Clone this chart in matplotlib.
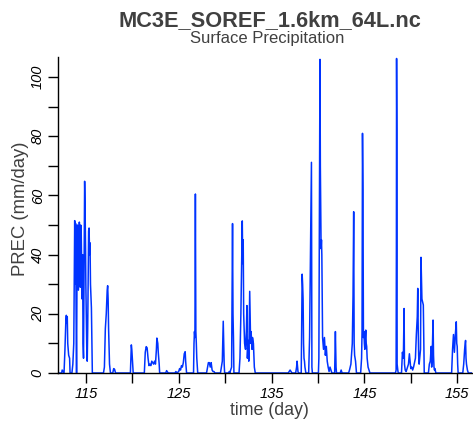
import numpy as np
import matplotlib
matplotlib.use('Agg')
import matplotlib.pyplot as plt
from matplotlib.ticker import MultipleLocator

plt.rcParams['font.family'] = ['Liberation Sans', 'DejaVu Sans']

# surface precipitation (day, mm/day)
time_day = [
    112.0, 112.4, 112.45, 112.55, 112.65, 112.75, 112.85, 112.9, 112.95, 113.0,
    113.05, 113.15, 113.25, 113.3, 113.5, 113.6, 113.7, 113.8, 113.85, 113.9,
    113.95, 114.0, 114.05, 114.1, 114.15, 114.2, 114.3, 114.35, 114.4, 114.45,
    114.5, 114.55, 114.6, 114.65, 114.7, 114.75, 114.8, 114.87, 114.92, 114.97,
    115.0, 115.05, 115.1, 115.15, 115.2, 115.3, 115.35, 115.4, 115.45, 115.5,
    115.6, 115.65, 115.7, 116.9, 117.0, 117.1, 117.2, 117.3, 117.35, 117.4,
    117.45, 117.55, 117.65, 117.9, 118.0, 118.1, 118.2, 119.8, 119.9, 119.95,
    120.05, 120.1, 121.3, 121.4, 121.5, 121.6, 121.7, 121.8, 121.9, 122.0,
    122.1, 122.2, 122.3, 122.4, 122.5, 122.6, 122.65, 122.75, 122.8, 122.9,
    122.95, 123.6, 123.7, 123.8, 123.9, 124.6, 124.7, 124.8, 125.0, 125.1,
    125.2, 125.3, 125.4, 125.5, 125.6, 125.7, 125.75, 125.85, 126.6, 126.65,
    126.7, 126.75, 126.8, 126.85, 126.9, 126.95, 127.05, 128.0, 128.2, 128.3,
    128.4, 128.5, 128.6, 128.7, 128.8, 128.9, 129.5, 129.6, 129.7, 129.8,
    129.85, 129.9, 129.95, 130.4, 130.45, 130.5, 130.7, 130.8, 130.85, 130.9,
    130.95, 131.5, 131.6, 131.7, 131.85, 131.9, 131.95, 132.0, 132.1, 132.2,
    132.3, 132.35, 132.4, 132.5, 132.55, 132.65, 132.7, 132.75, 132.8, 132.85,
    132.9, 132.95, 133.05, 133.15, 133.25, 136.8, 136.9, 137.0, 137.1, 137.2,
    137.6, 137.7, 137.75, 137.85, 137.9, 138.2, 138.3, 138.35, 138.4, 138.45,
    138.5, 138.55, 138.6, 138.7, 139.0, 139.1, 139.3, 139.35, 139.4, 140.05,
    140.1, 140.22, 140.26, 140.3, 140.34, 140.38, 140.42, 140.5, 140.6, 140.7,
    140.8, 140.9, 141.0, 141.1, 141.2, 141.3, 141.4, 141.5, 141.8, 141.88,
    141.95, 142.0, 142.4, 142.5, 142.6, 143.3, 143.4, 143.55, 143.7, 143.78,
    143.85, 143.9, 143.95, 144.05, 144.15, 144.6, 144.7, 144.75, 144.8, 144.85,
    144.9, 144.95, 145.0, 145.05, 145.1, 145.15, 145.2, 145.25, 145.3, 145.4,
    145.5, 145.6, 148.35, 148.42, 148.45, 148.47, 148.5, 148.53, 148.6, 148.65,
    149.0, 149.1, 149.2, 149.28, 149.32, 149.4, 149.5, 149.6, 149.75, 149.85,
    149.95, 150.0, 150.1, 150.2, 150.3, 150.4, 150.5, 150.6, 150.7, 150.75,
    150.8, 150.85, 150.9, 151.05, 151.1, 151.2, 151.35, 151.4, 151.45, 151.9,
    152.0, 152.1, 152.2, 152.25, 152.3, 152.4, 152.45, 152.5, 152.55, 152.6,
    152.7, 154.4, 154.5, 154.6, 154.7, 154.8, 154.9, 154.95, 155.0, 155.05,
    155.1, 155.6, 155.7, 155.8, 155.9, 155.95, 156.0, 156.1, 156.2, 156.6,
]
prec = [
    0, 0, 1, 0.5, 0, 8, 18, 19.5, 17, 19,
    10, 6, 5, 0, 0, 3, 10, 51.5, 30, 50.5,
    20, 0, 35, 50, 40, 28, 51, 46, 29, 50,
    48, 35, 25, 40, 10, 5, 30, 64.8, 55, 42,
    30, 18, 8, 4, 15, 48, 49, 40, 44, 30,
    22, 10, 0, 0, 2, 15, 20, 28, 29.5, 25,
    15, 3, 0, 0, 1.5, 1.2, 0, 0, 9.5, 8,
    3, 0, 0, 7, 8.9, 8.5, 5, 2.5, 3, 2.5,
    4, 3.5, 3, 4, 3, 8, 11.8, 10, 7, 3,
    0, 0, 0.8, 0.3, 0, 0, 0.5, 0, 0.5, 1.5,
    1, 2.5, 2, 3.5, 6.5, 7.2, 4, 0, 0, 10,
    14, 12, 60.5, 14, 10, 5, 0, 0, 3.5, 3.5,
    2, 3.5, 1, 0.5, 0.5, 0, 0, 2, 4, 17.5,
    10, 3, 0, 0, 0.5, 0, 2, 50.5, 20, 12,
    0, 0, 5, 20, 51.4, 37, 45, 20, 10, 8,
    15, 22.8, 5, 11, 4, 27.6, 18, 10, 14, 11,
    8, 12, 10, 2, 0, 0, 0.5, 1, 0.5, 0,
    0, 2, 4, 0.5, 0, 0, 33.4, 30, 25, 10,
    5, 4, 2, 0, 0, 12, 71.2, 2, 0, 0,
    5, 106, 70, 55, 42, 45, 40, 12, 8, 12,
    6, 9, 4, 2, 0.5, 2, 1, 0, 0, 14,
    2, 0, 0, 1, 0, 0, 1, 3, 10, 26,
    54.5, 10, 6, 4, 0, 0, 5, 14, 81, 62,
    12, 14, 10, 8, 12, 14.5, 10, 9, 5, 2,
    1, 0, 0, 1, 41.5, 106.3, 82, 3, 1, 0,
    0, 7, 5, 21.8, 3, 1, 0.5, 1.5, 3, 6.5,
    3, 1.5, 2, 1, 2, 3.5, 5, 13, 19, 28.6,
    15, 6, 3, 8, 39.1, 25, 23, 10, 0, 0,
    3, 4, 9, 2, 5, 17.9, 6, 2, 1, 1.5,
    0, 0, 8, 13, 7, 13, 17.3, 10, 9, 3,
    0, 0, 3, 8, 11, 5, 3, 1, 0, 0,
]

x_major = [115, 125, 135, 145, 155]
y_major = [0, 20, 40, 60, 80, 100]

fig = plt.figure(figsize=(4.73, 4.21), dpi=100)
ax = fig.add_axes([0.1226, 0.114, 0.8754, 0.7506])

ax.plot(time_day, prec, color='#0033ff', linewidth=1.1)

ax.set_xlim(112.0, 156.6)
ax.set_ylim(0, 106.8)

ax.spines['top'].set_visible(False)
ax.spines['right'].set_visible(False)
for sp in ['left', 'bottom']:
    ax.spines[sp].set_linewidth(1.0)

ax.set_xticks(x_major)
ax.set_yticks(y_major)
ax.xaxis.set_minor_locator(MultipleLocator(5))
ax.yaxis.set_minor_locator(MultipleLocator(10))
ax.tick_params(which='both', direction='out', length=7, width=1.0, color='black')
ax.tick_params(axis='x', labelsize=10.5, pad=3)
ax.tick_params(axis='y', labelsize=10.5, pad=2.5)
for lbl in ax.get_xticklabels():
    lbl.set_fontstyle('italic')
for lbl in ax.get_yticklabels():
    lbl.set_fontstyle('italic')
    lbl.set_rotation(90)
    lbl.set_va('center')

ax.set_xlabel('time (day)', fontsize=12.8, color='#404040')
ax.set_ylabel('PREC (mm/day)', fontsize=13.3, color='#404040')
ax.xaxis.set_label_coords(0.511, -0.092)
ax.yaxis.set_label_coords(-0.069, 0.521)

fig.text(0.571, 0.939, 'MC3E_SOREF_1.6km_64L.nc', ha='center', fontsize=15.7,
         fontweight='bold', color='#404040')
fig.text(0.565, 0.899, 'Surface Precipitation', ha='center', fontsize=12, color='#404040')

fig.savefig('out.png', dpi=100)
